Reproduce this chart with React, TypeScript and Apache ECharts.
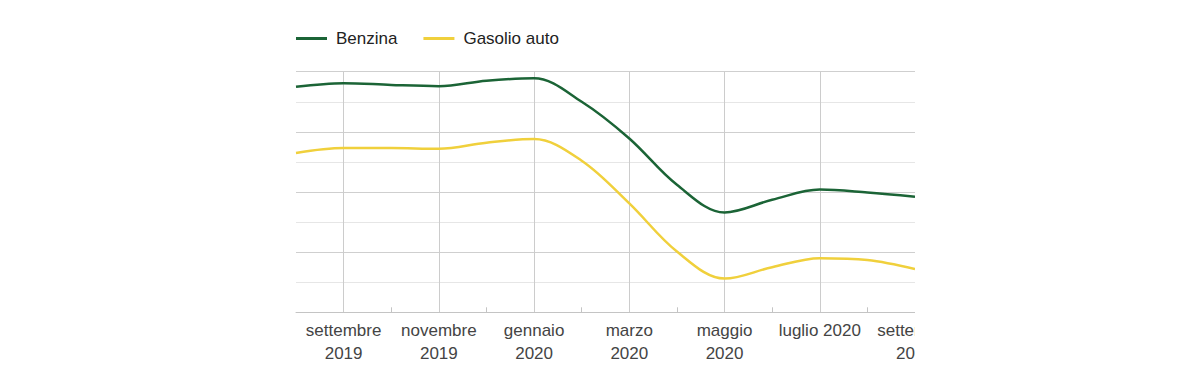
import React, { useEffect, useRef } from "react";
import * as echarts from "echarts";

const months = [
  "agosto\n2019",
  "settembre\n2019",
  "ottobre\n2019",
  "novembre\n2019",
  "dicembre\n2019",
  "gennaio\n2020",
  "febbraio\n2020",
  "marzo\n2020",
  "aprile\n2020",
  "maggio\n2020",
  "giugno\n2020",
  "luglio 2020",
  "agosto\n2020",
  "settembre\n2020",
];

const benzina = [1.575, 1.581, 1.578, 1.576, 1.585, 1.589, 1.55, 1.489, 1.412, 1.366, 1.387, 1.404, 1.399, 1.392];
const gasolio = [1.465, 1.473, 1.473, 1.472, 1.482, 1.488, 1.452, 1.381, 1.301, 1.256, 1.275, 1.29, 1.287, 1.272];

const FONT = "'Liberation Sans', Arial, sans-serif";

export default function App() {
  const ref = useRef<HTMLDivElement>(null);
  useEffect(() => {
    if (!ref.current) return;
    const chart = echarts.init(ref.current, undefined, { renderer: "svg" });
    chart.setOption({
      animation: false,
      backgroundColor: "#ffffff",
      textStyle: { fontFamily: FONT },
      legend: {
        left: 283,
        top: 17,
        icon: "rect",
        itemWidth: 31,
        itemHeight: 3,
        itemGap: 26,
        textStyle: { fontSize: 17, color: "#222222", fontFamily: FONT, padding: [0, 0, 0, 4] },
        data: ["Benzina", "Gasolio auto"],
      },
      grid: { left: 288, right: 277, top: 63.7, bottom: 68.7, containLabel: false },
      xAxis: {
        type: "category",
        data: months,
        boundaryGap: false,
        axisLine: { show: true, lineStyle: { color: "#c4c4c4", width: 1 } },
        axisTick: {
          show: true,
          inside: true,
          length: 5,
          interval: (i: number) => i % 2 === 0 && i > 0,
          lineStyle: { color: "#c4c4c4" },
        },
        axisLabel: {
          interval: (i: number) => i % 2 === 1,
          color: "#444444",
          fontSize: 17,
          lineHeight: 23,
          margin: 7,
          fontFamily: FONT,
          hideOverlap: false,
        },
        splitLine: {
          show: true,
          interval: (i: number) => i % 2 === 1,
          lineStyle: { color: "#cccccc", width: 1 },
        },
      },
      yAxis: {
        type: "value",
        min: 1.2,
        max: 1.6,
        interval: 0.1,
        axisLabel: { show: false },
        axisLine: { show: false },
        axisTick: { show: false },
        splitLine: { show: true, lineStyle: { color: "#cfcfcf", width: 1 } },
        minorTick: { show: false, splitNumber: 2 },
        minorSplitLine: { show: true, lineStyle: { color: "#e6e6e6", width: 1 } },
      },
      series: [
        {
          name: "Benzina",
          type: "line",
          data: benzina,
          smooth: 0.35,
          showSymbol: false,
          color: "#1b6436",
          lineStyle: { width: 2.5, color: "#1b6436" },
        },
        {
          name: "Gasolio auto",
          type: "line",
          data: gasolio,
          smooth: 0.35,
          showSymbol: false,
          color: "#f0d03c",
          lineStyle: { width: 2.5, color: "#f0d03c" },
        },
      ],
    });
    return () => chart.dispose();
  }, []);
  return (
    <div style={{ width: 907, height: 373, overflow: "hidden", position: "relative" }}>
      <div ref={ref} style={{ width: 1184, height: 373 }} />
    </div>
  );
}
